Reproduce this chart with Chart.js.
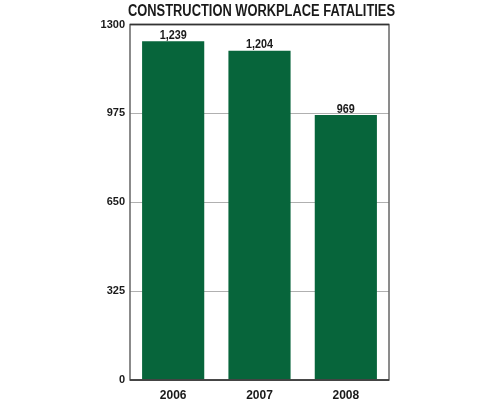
<!DOCTYPE html>
<html>
<head>
<meta charset="utf-8">
<script src="https://cdn.jsdelivr.net/npm/chart.js@4"></script>
<style>
  html, body { margin: 0; padding: 0; background: #fff; }
  #wrap { width: 500px; height: 400px; }
</style>
</head>
<body>
<div id="wrap"><canvas id="fatal_chart"></canvas></div>
<script>
var chart_title = 'CONSTRUCTION WORKPLACE FATALITIES';
var years = ['2006', '2007', '2008'];
var fatalities = [1239, 1204, 969];
var value_labels = ['1,239', '1,204', '969'];
var y_ticks = [0, 325, 650, 975, 1300];

var sans = '"Liberation Sans", Arial, sans-serif';

// draws a squeezed text so it looks like a condensed face
function narrow_text(ctx, txt, x, y, squeeze) {
    ctx.save();
    ctx.translate(x, y);
    ctx.scale(squeeze, 1);
    ctx.fillText(txt, 0, 0);
    ctx.restore();
}

// title, value text above each bar, box around the plot
var extras = {
    id: 'extras',
    afterDatasetsDraw(chart) {
        var ctx = chart.ctx;
        var a = chart.chartArea;
        var meta = chart.getDatasetMeta(0);
        ctx.save();
        ctx.fillStyle = '#1a1a1a';

        ctx.font = 'bold 16px ' + sans;
        ctx.textAlign = 'center';
        ctx.textBaseline = 'alphabetic';
        var w = ctx.measureText(chart_title).width;
        narrow_text(ctx, chart_title, 261.5, 15.5, 267 / w);

        ctx.font = 'bold 12px ' + sans;
        meta.data.forEach((bar, i) => {
            narrow_text(ctx, value_labels[i], bar.x, bar.y - 2.5, 0.9);
        });

        ctx.lineWidth = 1.5;
        ctx.strokeStyle = '#666';
        ctx.strokeRect(a.left, a.top, a.right - a.left, a.bottom - a.top);
        ctx.strokeStyle = '#333';
        ctx.beginPath();
        ctx.moveTo(a.left, a.top);
        ctx.lineTo(a.right, a.top);
        ctx.moveTo(a.left, a.bottom);
        ctx.lineTo(a.right, a.bottom);
        ctx.stroke();
        ctx.restore();
    }
}

var fatal_chart = new Chart(document.getElementById('fatal_chart'), {
    type: 'bar',
    data: {
        labels: years,
        datasets: [
            {
                label: 'Fatalities',
                data: fatalities,
                backgroundColor: '#07653b',
                barPercentage: 0.72,
                categoryPercentage: 1.0,
            }
        ]
    },
    options: {
        responsive: true,
        maintainAspectRatio: false,
        animation: false,
        layout: {
            padding: { left: 0, right: 111, top: 24.5, bottom: 0 }
        },
        scales: {
            x: {
                grid: { display: false, drawTicks: false },
                border: { display: false },
                ticks: {
                    color: '#1a1a1a',
                    padding: 8,
                    font: { family: sans, size: 12, weight: 'bold' }
                },
                afterFit: (s) => { s.height = 20; }
            },
            y: {
                min: 0,
                max: 1300,
                afterBuildTicks: (s) => { s.ticks = y_ticks.map(v => ({ value: v })); },
                grid: { color: '#b0b0b0', lineWidth: 1, drawTicks: false },
                border: { display: false },
                ticks: {
                    color: '#1a1a1a',
                    padding: 5,
                    font: { family: sans, size: 11, weight: 'bold' },
                    callback: (v) => String(v)
                },
                afterFit: (s) => { s.width = 130; }
            }
        },
        plugins: {
            legend: { display: false },
            tooltip: { enabled: false },
            title: { display: false }
        }
    },
    plugins: [extras]
})
</script>
</body>
</html>
